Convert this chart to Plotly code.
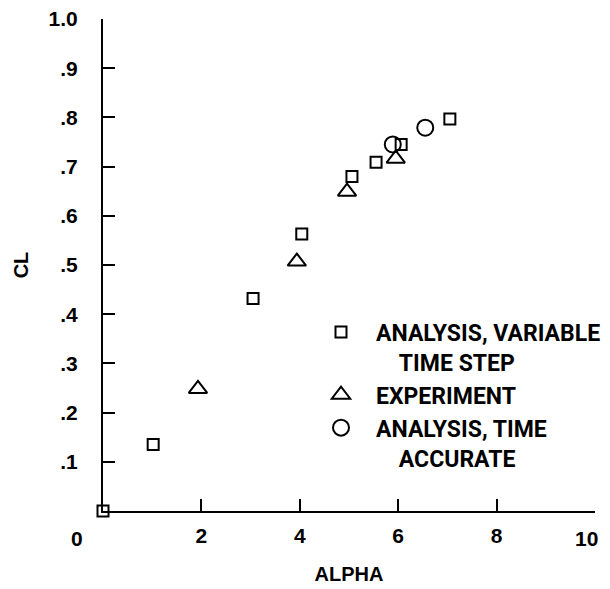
import plotly.graph_objects as go

# Data
var_alpha = [0.0, 1.02, 3.05, 4.04, 5.06, 5.55, 6.06, 7.05]
var_cl = [0.0, 0.135, 0.432, 0.563, 0.680, 0.709, 0.745, 0.797]

exp_alpha = [0.0, 1.93, 3.94, 4.96, 5.95]
exp_cl = [-0.005, 0.248, 0.507, 0.649, 0.716]

acc_alpha = [5.89, 6.55]
acc_cl = [0.745, 0.779]

x_tickvals = [2, 4, 6, 8, 10]
x_ticktext = ["2", "4", "6", "8", ""]
y_tickvals = [0.1, 0.2, 0.3, 0.4, 0.5, 0.6, 0.7, 0.8, 0.9, 1.0]
y_ticktext = [".1", ".2", ".3", ".4", ".5", ".6", ".7", ".8", ".9", "1.0"]

names = ["ANALYSIS, VARIABLE<br>\u00a0\u00a0\u00a0\u00a0TIME STEP",
         "EXPERIMENT",
         "ANALYSIS, TIME<br>\u00a0\u00a0\u00a0\u00a0ACCURATE"]

LEG_FONT = "Roboto, Liberation Sans, sans-serif"
TICK_FONT = "Liberation Sans, Arial, sans-serif"

fig = go.Figure()
fig.add_trace(go.Scatter(x=var_alpha, y=var_cl, mode="markers", name=names[0],
                         marker=dict(symbol="square-open", size=11, color="black",
                                     line=dict(width=2, color="black")),
                         cliponaxis=False))
fig.add_trace(go.Scatter(x=exp_alpha, y=exp_cl, mode="markers", name=names[1],
                         marker=dict(symbol="triangle-up-open", size=16, color="black",
                                     line=dict(width=2, color="black")),
                         cliponaxis=False))
fig.add_trace(go.Scatter(x=acc_alpha, y=acc_cl, mode="markers", name=names[2],
                         marker=dict(symbol="circle-open", size=16, color="black",
                                     line=dict(width=2, color="black")),
                         cliponaxis=False))

fig.update_layout(
    width=610, height=589,
    margin=dict(l=103, r=15, t=19, b=78, autoexpand=False),
    paper_bgcolor="white", plot_bgcolor="white",
    showlegend=True,
    legend=dict(x=0.4126, y=0.4075, xanchor="left", yanchor="top",
                valign="top", bgcolor="rgba(0,0,0,0)", itemwidth=60,
                font=dict(family=LEG_FONT, size=23, color="black", weight="bold"),
                tracegroupgap=0, itemsizing="trace"),
    xaxis=dict(range=[0, 10], tickvals=x_tickvals, ticktext=x_ticktext,
               ticks="inside", ticklen=12, tickwidth=2, tickcolor="black",
               showline=True, linewidth=2, linecolor="black", showgrid=False,
               zeroline=False, ticklabelstandoff=5, automargin=False,
               ticklabeloverflow="allow",
               tickfont=dict(family=TICK_FONT, size=21, color="black", weight="bold"),
               title=dict(text="ALPHA", standoff=21,
                          font=dict(family=TICK_FONT, size=20, color="black", weight="bold"))),
    yaxis=dict(range=[0, 1], tickvals=y_tickvals, ticktext=y_ticktext,
               ticks="inside", ticklen=12, tickwidth=2, tickcolor="black",
               showline=True, linewidth=2, linecolor="black", showgrid=False,
               zeroline=False, ticklabelstandoff=19, automargin=False,
               ticklabeloverflow="allow",
               tickfont=dict(family=TICK_FONT, size=21, color="black", weight="bold"),
               title=dict(text="CL", standoff=15,
                          font=dict(family=TICK_FONT, size=20, color="black", weight="bold"))),
)

# origin label and end label, offset as in the reference
fig.add_annotation(x=0, y=0, xref="x", yref="y", text="0", showarrow=False,
                   xshift=-26, yshift=-27,
                   font=dict(family=TICK_FONT, size=21, color="black", weight="bold"))
fig.add_annotation(x=10, y=0, xref="x", yref="y", text="10", showarrow=False,
                   xshift=-9, yshift=-27,
                   font=dict(family=TICK_FONT, size=21, color="black", weight="bold"))

fig.write_html("out.html",
               config={"displayModeBar": False},
               post_script="document.body.style.margin='0';"
                           "document.body.style.overflow='hidden';")
